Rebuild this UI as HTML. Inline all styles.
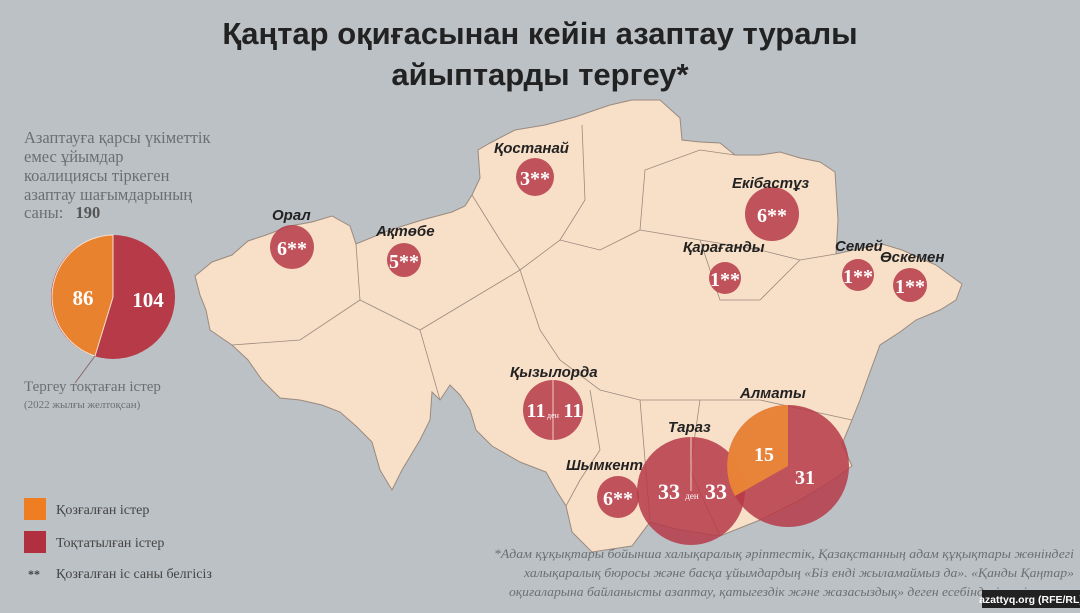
<!DOCTYPE html>
<html><head><meta charset="utf-8"><style>
body{margin:0;width:1080px;height:608px;overflow:hidden;background:#bcc1c5;font-family:"Liberation Sans",sans-serif}
</style></head><body>
<svg width="1080" height="608" viewBox="0 0 1080 608" xmlns="http://www.w3.org/2000/svg">
<rect width="1080" height="608" fill="#bcc1c5"/>
<path d="M195,276 L212,262 L232,255 L248,241 L266,235 L290,226 L312,222 L332,216 L350,226 L356,244 L390,230 L422,220 L452,212 L465,206 L472,195 L480,178 L478,150 L490,143 L515,130 L545,125 L575,117 L610,105 L632,100 L660,100 L680,118 L682,140 L700,142 L720,143 L735,155 L760,155 L780,152 L800,158 L820,162 L835,172 L838,220 L836,254 L862,248 L882,244 L902,250 L936,265 L962,284 L956,300 L940,310 L916,320 L900,332 L880,345 L870,372 L860,400 L852,420 L842,444 L852,466 L830,482 L800,500 L760,520 L720,536 L680,530 L650,522 L632,546 L592,552 L572,532 L566,506 L556,490 L546,472 L520,462 L492,446 L476,430 L470,410 L460,395 L450,385 L440,400 L432,392 L430,420 L420,440 L402,470 L392,490 L380,470 L372,442 L356,426 L340,412 L322,405 L300,400 L280,398 L262,380 L248,360 L232,345 L210,330 L206,310 L200,295 Z" fill="#f8dfc8" stroke="#9a8a7e" stroke-width="1"/>
<g fill="none" stroke="#9a8a7e" stroke-width="0.8">
<path d="M356,244 L360,300 L420,330 L470,300 L520,270 L560,240 L600,250 L640,230 L700,240 L760,250 L800,260 L836,254"/>
<path d="M472,195 L500,240 L520,270 L540,330 L560,360 L600,390 L640,400 L700,400 L760,400 L852,420"/>
<path d="M582,125 L585,200 L560,240"/>
<path d="M640,230 L645,170 L700,150 L735,155"/>
<path d="M700,240 L720,300 L760,300 L800,260"/>
<path d="M640,400 L650,520"/><path d="M700,400 L690,470 L720,536"/>
<path d="M590,390 L600,450 L580,480 L566,506"/>
<path d="M420,330 L440,400"/><path d="M232,345 L300,340 L360,300"/>
</g>
<text x="540" y="44" text-anchor="middle" font-family="Liberation Sans,sans-serif" font-weight="bold" font-size="31" fill="#222">Қаңтар оқиғасынан кейін азаптау туралы</text>
<text x="540" y="85" text-anchor="middle" font-family="Liberation Sans,sans-serif" font-weight="bold" font-size="31" fill="#222">айыптарды тергеу*</text>
<g fill="#b63a48" fill-opacity="0.85">
<circle cx="292" cy="247" r="22"/><circle cx="404" cy="260" r="17"/><circle cx="535" cy="177" r="19"/>
<circle cx="772" cy="214" r="27"/><circle cx="725" cy="278" r="16"/><circle cx="858" cy="275" r="16"/><circle cx="910" cy="285" r="17"/>
<circle cx="553" cy="410" r="30"/><circle cx="618" cy="497" r="21"/><circle cx="691" cy="491" r="54"/>
<circle cx="788" cy="466" r="61"/>
</g>
<path d="M788,466 L788,405 A61,61 0 0 0 735,496 Z" fill="#ec8a35" fill-opacity="0.9"/>
<line x1="553" y1="380" x2="553" y2="440" stroke="#f3c9c0" stroke-width="1"/>
<line x1="691" y1="437" x2="691" y2="491" stroke="#f3c9c0" stroke-width="1"/>
<g font-family="Liberation Serif,serif" font-weight="bold" fill="#fff" font-size="20" text-anchor="middle">
<text x="292" y="255">6**</text><text x="404" y="268">5**</text><text x="535" y="185">3**</text>
<text x="772" y="222">6**</text><text x="725" y="286">1**</text><text x="858" y="283">1**</text><text x="910" y="293">1**</text>
<text x="618" y="505">6**</text>
<text x="536" y="417">11</text><text x="573" y="417">11</text>
<text x="669" y="499" font-size="22">33</text><text x="716" y="499" font-size="22">33</text>
<text x="764" y="461">15</text><text x="805" y="484">31</text>
<text x="553" y="418" font-size="8" font-weight="normal">ден</text>
<text x="692" y="499" font-size="9" font-weight="normal">ден</text>
</g>
<g font-family="Liberation Sans,sans-serif" font-weight="bold" font-style="italic" fill="#222" font-size="15">
<text x="272" y="220">Орал</text><text x="376" y="236">Ақтөбе</text><text x="494" y="153">Қостанай</text>
<text x="732" y="188">Екібастұз</text><text x="683" y="252">Қарағанды</text><text x="835" y="251">Семей</text><text x="880" y="262">Өскемен</text>
<text x="510" y="377">Қызылорда</text><text x="566" y="470">Шымкент</text><text x="668" y="432">Тараз</text><text x="740" y="398">Алматы</text>
</g>
<g font-family="Liberation Serif,serif" fill="#6b6f73" font-size="16.5">
<text x="24" y="143">Азаптауға қарсы үкіметтік</text>
<text x="24" y="162">емес ұйымдар</text>
<text x="24" y="181">коалициясы тіркеген</text>
<text x="24" y="200">азаптау шағымдарының</text>
<text x="24" y="218">саны: <tspan font-weight="bold" fill="#555" dx="8">190</tspan></text>
</g>
<circle cx="113" cy="297" r="62" fill="#b63a48"/>
<path d="M113,297 L113,235 A62,62 0 0 0 95,356 Z" fill="#e8822e" stroke="#f6e0d0" stroke-width="1"/>
<line x1="95" y1="356" x2="75" y2="383" stroke="#8a6a6a" stroke-width="1"/>
<text x="83" y="305" font-family="Liberation Serif,serif" font-weight="bold" font-size="21" fill="#fff" text-anchor="middle">86</text>
<text x="148" y="307" font-family="Liberation Serif,serif" font-weight="bold" font-size="21" fill="#fff" text-anchor="middle">104</text>
<text x="24" y="391" font-family="Liberation Serif,serif" font-size="15" fill="#6b6f73">Тергеу тоқтаған істер</text>
<text x="24" y="408" font-family="Liberation Serif,serif" font-size="11" fill="#6b6f73">(2022 жылғы желтоқсан)</text>
<rect x="24" y="498" width="22" height="22" fill="#ef7d22"/>
<rect x="24" y="531" width="22" height="22" fill="#b03040"/>
<g font-family="Liberation Serif,serif" font-size="14" fill="#444">
<text x="56" y="514">Қозғалған істер</text><text x="56" y="547">Тоқтатылған істер</text>
<text x="28" y="578" font-weight="bold" font-size="12">**</text><text x="56" y="578">Қозғалған іс саны белгісіз</text>
</g>
<g font-family="Liberation Serif,serif" font-style="italic" font-size="13" fill="#6b6f73" text-anchor="end">
<text x="1074" y="558" textLength="580" lengthAdjust="spacingAndGlyphs">*Адам құқықтары бойынша халықаралық әріптестік, Қазақстанның адам құқықтары жөніндегі</text>
<text x="1074" y="577" textLength="550" lengthAdjust="spacingAndGlyphs">халықаралық бюросы және басқа ұйымдардың «Біз енді жыламаймыз да». «Қанды Қаңтар»</text>
<text x="1074" y="596" textLength="565" lengthAdjust="spacingAndGlyphs">оқиғаларына байланысты азаптау, қатыгездік және жазасыздық» деген есебіндегі мәліметтер</text>
</g>
<rect x="982" y="590" width="98" height="18" fill="#222"/>
<text x="1031" y="603" text-anchor="middle" font-family="Liberation Sans,sans-serif" font-weight="bold" font-size="10.5" fill="#fff">azattyq.org (RFE/RL)</text>
</svg>
</body></html>
